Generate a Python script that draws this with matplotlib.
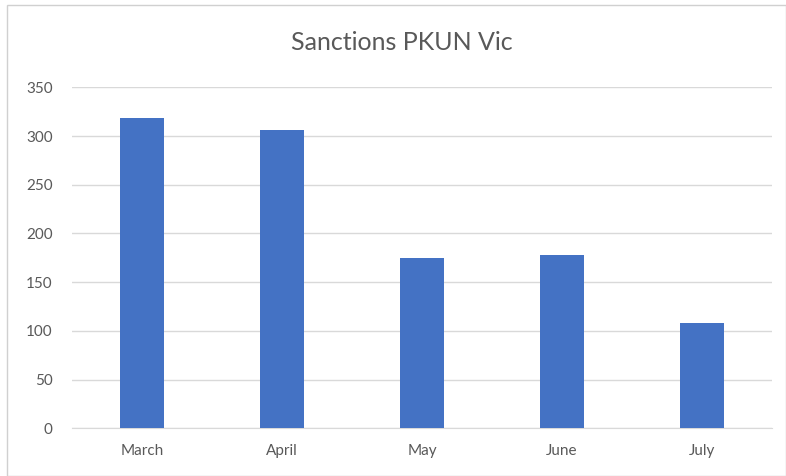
import matplotlib
matplotlib.use("Agg")
import matplotlib.pyplot as plt
from matplotlib.patches import Rectangle
import numpy as np

months = ["March", "April", "May", "June", "July"]
sanctions = [319, 306, 175, 178, 108]
y_ticks = [0, 50, 100, 150, 200, 250, 300, 350]

BAR_COLOR = "#4472C4"
TEXT_COLOR = "#595959"
GRID_COLOR = "#D9D9D9"

plt.rcParams["font.family"] = ["Lato", "DejaVu Sans"]

W, H = 786, 476
fig = plt.figure(figsize=(W / 100, H / 100), dpi=100)
fig.patch.set_facecolor("white")

# chart frame
fig.patches.append(Rectangle((7 / W, 0), (W - 7.5) / W, (H - 5) / H,
                             transform=fig.transFigure, fill=False,
                             edgecolor="#D0D0D0", linewidth=1.0))

ax = fig.add_axes([72 / W, 1 - 428.3 / H, 700 / W, (428.3 - 87.3) / H])
x = np.arange(len(months))
ax.bar(x, sanctions, width=0.32, color=BAR_COLOR, zorder=3)

ax.set_xlim(-0.5, len(months) - 0.5)
ax.set_ylim(0, 350)
ax.set_yticks(y_ticks)
ax.set_xticks(x)
ax.set_xticklabels(months)
ax.grid(axis="y", color=GRID_COLOR, linewidth=1.0, zorder=0)
ax.tick_params(axis="both", length=0, colors=TEXT_COLOR, labelsize=11)
ax.tick_params(axis="y", pad=14)
ax.tick_params(axis="x", pad=11)
for s in ("top", "right", "left"):
    ax.spines[s].set_visible(False)
ax.spines["bottom"].set_color(GRID_COLOR)

fig.text(402 / W, 1 - 43 / H, "Sanctions PKUN Vic", ha="center", va="center",
         fontsize=18, color=TEXT_COLOR)

fig.savefig("out.png", dpi=100)
